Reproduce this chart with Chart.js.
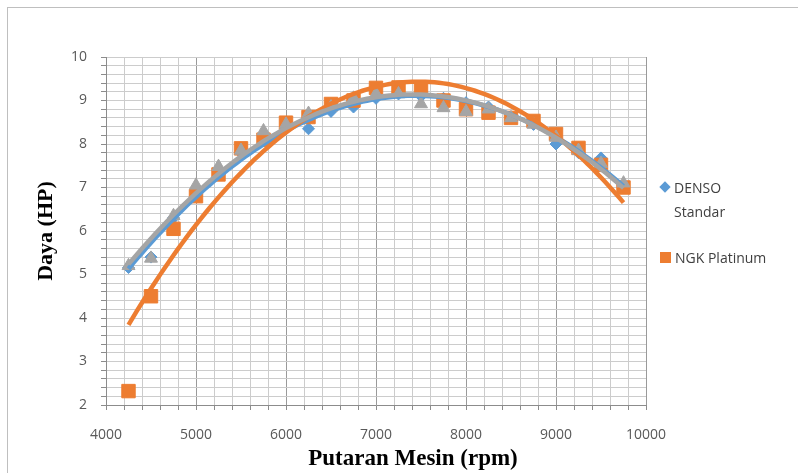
<!DOCTYPE html>
<html>
<head>
<meta charset="utf-8">
<script src="https://cdn.jsdelivr.net/npm/chart.js@4.4.1/dist/chart.umd.min.js"></script>
<style>
  html, body { margin: 0; padding: 0; background: #ffffff; }
  #wrap { position: relative; width: 798px; height: 473px; overflow: hidden; }
  #frame { position: absolute; left: 7px; top: 7px; width: 820px; height: 500px; border: 1px solid #BFBFBF; box-sizing: border-box; }
  canvas { position: absolute; left: 0; top: 0; }
  .lg { position: absolute; font-family: "Open Sans", sans-serif; font-size: 14px; color: #404040; line-height: 24px; white-space: nowrap; }
  .mk { position: absolute; }
  #xt { position: absolute; left: 213px; width: 400px; top: 444px; text-align: center; font-family: "Liberation Serif", serif; font-weight: bold; font-size: 23px; line-height: 28px; color: #000; white-space: nowrap; }
</style>
</head>
<body>
<div id="wrap">
  <div id="frame"></div>
  <canvas id="c" width="798" height="473"></canvas>
  <div class="mk" style="left:661px; top:183px; width:8px; height:8px; background:#5B9BD5; transform:rotate(45deg);"></div>
  <div class="lg" style="left:674px; top:176px;">DENSO<br>Standar</div>
  <div class="mk" style="left:660px; top:252px; width:11px; height:11px; background:#ED7D31;"></div>
  <div class="lg" style="left:675px; top:246px;">NGK Platinum</div>
  <div id="xt"></div>
</div>
<script>
// ---- data ----
const rpm = [4250, 4500, 4750, 5000, 5250, 5500, 5750, 6000, 6250, 6500, 6750, 7000,
             7250, 7500, 7750, 8000, 8250, 8500, 8750, 9000, 9250, 9500, 9750];
const densoStandar = [5.16, 5.40, 6.30, 6.90, 7.30, 7.80, 8.20, 8.35, 8.35, 8.75, 8.85, 9.05,
                      9.15, 9.10, 9.05, 8.95, 8.85, 8.60, 8.45, 8.00, 7.80, 7.68, 7.04];
const ngkPlatinum = [2.32, 4.50, 6.05, 6.80, 7.30, 7.90, 8.10, 8.49, 8.62, 8.92, 9.00, 9.29,
                     9.30, 9.30, 9.00, 8.80, 8.72, 8.60, 8.53, 8.23, 7.91, 7.52, 7.00];
const series3 = [5.20, 5.37, 6.35, 7.05, 7.48, 7.85, 8.30, 8.45, 8.70, 8.85, 9.05, 9.15,
                 9.15, 8.92, 8.83, 8.74, 8.80, 8.60, 8.45, 8.15, 7.85, 7.55, 7.10];
const seriesNames = ["DENSO Standar", "NGK Platinum", "Series3"];
const xTitle = "Putaran Mesin (rpm)";
const yTitle = "Daya (HP)";
document.getElementById('xt').textContent = xTitle;

// ---- polynomial (order 2) trendline, as in the source spreadsheet ----
function polyFit2(xs, ys) {
  const n = xs.length;
  let s = [0,0,0,0,0], t = [0,0,0];
  for (let i = 0; i < n; i++) {
    const x = xs[i] / 1000, y = ys[i];
    let p = 1;
    for (let k = 0; k < 5; k++) { s[k] += p; if (k < 3) t[k] += p * y; p *= x; }
  }
  const M = [[s[0], s[1], s[2], t[0]], [s[1], s[2], s[3], t[1]], [s[2], s[3], s[4], t[2]]];
  for (let c = 0; c < 3; c++) {
    for (let r = c + 1; r < 3; r++) {
      const f = M[r][c] / M[c][c];
      for (let k = c; k < 4; k++) M[r][k] -= f * M[c][k];
    }
  }
  const a = [0,0,0];
  for (let r = 2; r >= 0; r--) {
    let v = M[r][3];
    for (let k = r + 1; k < 3; k++) v -= M[r][k] * a[k];
    a[r] = v / M[r][r];
  }
  return a;
}
function trend(xs, ys) {
  const a = polyFit2(xs, ys);
  const pts = [];
  const x0 = xs[0], x1 = xs[xs.length - 1];
  for (let x = x0; x <= x1; x += 50) {
    const u = x / 1000;
    pts.push({ x: x, y: a[0] + a[1] * u + a[2] * u * u });
  }
  return pts;
}
const pairs = (ys) => rpm.map((x, i) => ({ x: x, y: ys[i] }));

const blue = '#5B9BD5', orange = '#ED7D31', gray = '#A5A5A5';

new Chart(document.getElementById('c'), {
  type: 'scatter',
  data: {
    datasets: [
      { label: 'trend3', data: trend(rpm, series3), type: 'line', showLine: true, borderColor: gray, borderWidth: 4.5, pointRadius: 0, fill: false, order: 0 },
      { label: 'trend2', data: trend(rpm, ngkPlatinum), type: 'line', showLine: true, borderColor: orange, borderWidth: 4.5, pointRadius: 0, fill: false, order: 1 },
      { label: 'trend1', data: trend(rpm, densoStandar), type: 'line', showLine: true, borderColor: blue, borderWidth: 4.5, pointRadius: 0, fill: false, order: 2 },
      { label: seriesNames[2], data: pairs(series3), pointStyle: 'triangle', pointRadius: 7.5, backgroundColor: gray, borderColor: gray, borderWidth: 1, order: 3 },
      { label: seriesNames[1], data: pairs(ngkPlatinum), pointStyle: 'rect', pointRadius: 9.5, backgroundColor: orange, borderColor: orange, borderWidth: 1, order: 4 },
      { label: seriesNames[0], data: pairs(densoStandar), pointStyle: 'rectRot', pointRadius: 6, backgroundColor: blue, borderColor: blue, borderWidth: 1, order: 5 }
    ]
  },
  options: {
    responsive: false,
    animation: false,
    events: [],
    layout: { padding: { left: 33, right: 152, top: 57, bottom: 3 } },
    plugins: { legend: { display: false }, tooltip: { enabled: false } },
    scales: {
      x: {
        type: 'linear', min: 4000, max: 10000,
        afterFit: (s) => { s.height = 65; },
        ticks: {
          stepSize: 200, autoSkip: false, maxRotation: 0, padding: 17,
          color: '#595959', font: { family: 'Open Sans', size: 14 },
          callback: (v) => (v % 1000 === 0 ? String(v) : '')
        },
        grid: {
          lineWidth: 1, tickLength: 5,
          color: (ctx) => (ctx.tick && ctx.tick.value % 1000 === 0 ? '#9A9A9A' : '#CCCCCC'),
          tickColor: '#8C8C8C'
        },
        border: { color: '#8C8C8C', width: 1 }
      },
      y: {
        type: 'linear', min: 2, max: 10,
        afterFit: (s) => { s.width = 73; },
        ticks: {
          stepSize: 0.2, autoSkip: false, padding: 14,
          color: '#595959', font: { family: 'Open Sans', size: 14 },
          callback: (v) => (Math.abs(v - Math.round(v)) < 1e-6 ? String(Math.round(v)) : '')
        },
        grid: {
          lineWidth: 1, tickLength: 5,
          color: '#CCCCCC',
          tickColor: '#8C8C8C'
        },
        border: { color: '#8C8C8C', width: 1 },
        title: { display: true, text: yTitle, color: '#000000', padding: 0,
                 font: { family: 'Liberation Serif', size: 22, weight: 'bold' } }
      }
    }
  }
});
</script>
</body>
</html>
